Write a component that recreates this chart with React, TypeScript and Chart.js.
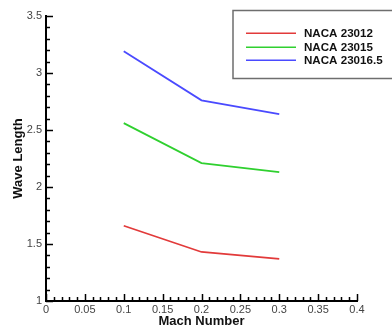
import React, { useEffect, useRef } from "react";
import { Chart, registerables } from "chart.js";

Chart.register(...registerables);

const machNumbers = [0.1, 0.2, 0.3];
const naca23012 = [1.66, 1.43, 1.37];
const naca23015 = [2.56, 2.21, 2.13];
const naca230165 = [3.19, 2.76, 2.64];
const seriesLabels = ["NACA 23012", "NACA 23015", "NACA 23016.5"];
const seriesColors = ["#e23a3a", "#2fd02f", "#4a4aff"];
const xMajorTicks = [0, 0.05, 0.1, 0.15, 0.2, 0.25, 0.3, 0.35, 0.4];
const yMajorTicks = [1, 1.5, 2, 2.5, 3, 3.5];

const tickPlugin = {
  id: "inwardTicks",
  afterDraw(chart: any) {
    const ctx = chart.ctx;
    const xs = chart.scales.x;
    const ys = chart.scales.y;
    const area = chart.chartArea;
    ctx.save();
    ctx.strokeStyle = "#000";
    ctx.lineWidth = 1.5;
    for (let i = 0; i <= 40; i++) {
      const v = i / 100;
      const px = Math.round(xs.getPixelForValue(v)) + 0.5;
      const major = i % 5 === 0;
      const len = major ? 7 : 4;
      ctx.beginPath();
      ctx.moveTo(px, area.bottom);
      ctx.lineTo(px, area.bottom - len);
      ctx.stroke();
    }
    for (let i = 10; i <= 35; i++) {
      const v = i / 10;
      const py = Math.round(ys.getPixelForValue(v)) + 0.5;
      const major = i % 5 === 0;
      const len = major ? 7 : 4;
      ctx.beginPath();
      ctx.moveTo(area.left, py);
      ctx.lineTo(area.left + len, py);
      ctx.stroke();
    }
    // legend box
    const bx = 233;
    const by = 10.5;
    const bh = 68;
    ctx.strokeStyle = "#6e6e6e";
    ctx.lineWidth = 1.5;
    ctx.strokeRect(bx, by, 200, bh);
    const rows = [33.3, 47.3, 60.3];
    chart.data.datasets.forEach((ds: any, i: number) => {
      ctx.strokeStyle = ds.borderColor;
      ctx.lineWidth = 1.5;
      ctx.beginPath();
      ctx.moveTo(246, rows[i]);
      ctx.lineTo(296, rows[i]);
      ctx.stroke();
      ctx.fillStyle = "#111";
      ctx.font = "bold 11.6px 'Liberation Sans', Arial, sans-serif";
      ctx.textBaseline = "middle";
      ctx.textAlign = "left";
      ctx.fillText(ds.label, 304, rows[i] + 0.5);
    });
    ctx.restore();
  },
};

export default function App() {
  const ref = useRef<HTMLCanvasElement | null>(null);
  useEffect(() => {
    if (!ref.current) return;
    const chart = new Chart(ref.current, {
      type: "line",
      data: {
        datasets: [naca23012, naca23015, naca230165].map((arr, i) => ({
          label: seriesLabels[i],
          data: arr.map((y, j) => ({ x: machNumbers[j], y })),
          borderColor: seriesColors[i],
          backgroundColor: seriesColors[i],
          borderWidth: 1.8,
          pointRadius: 0,
          tension: 0,
          fill: false,
        })),
      },
      options: {
        animation: false,
        responsive: false,
        maintainAspectRatio: false,
        layout: { padding: { left: 0, top: 16, right: 35, bottom: 0 } },
        plugins: { legend: { display: false }, tooltip: { enabled: false } },
        scales: {
          x: {
            type: "linear",
            min: 0,
            max: 0.4,
            afterBuildTicks: (s: any) => {
              s.ticks = xMajorTicks.map((v) => ({ value: v }));
            },
            afterFit: (s: any) => {
              s.height = 28;
            },
            grid: { display: false, drawTicks: false },
            border: { display: true, color: "#000", width: 2 },
            ticks: {
              padding: 2,
              color: "#444",
              font: { family: "'Liberation Sans', Arial, sans-serif", size: 11 },
              maxRotation: 0,
              autoSkip: false,
              callback: (v: any) => String(Number(v)),
            },
            title: {
              display: true,
              text: "Mach Number",
              color: "#111",
              font: { family: "'Liberation Sans', Arial, sans-serif", size: 13, weight: "bold" },
              padding: { top: 0, bottom: 0 },
            },
          },
          y: {
            type: "linear",
            min: 1,
            max: 3.5,
            afterBuildTicks: (s: any) => {
              s.ticks = yMajorTicks.map((v) => ({ value: v }));
            },
            afterFit: (s: any) => {
              s.width = 46;
            },
            grid: { display: false, drawTicks: false },
            border: { display: true, color: "#000", width: 2 },
            ticks: {
              padding: 4,
              color: "#444",
              font: { family: "'Liberation Sans', Arial, sans-serif", size: 11 },
              autoSkip: false,
              callback: (v: any) => String(Number(v)),
            },
            title: {
              display: true,
              text: "Wave Length",
              color: "#111",
              font: { family: "'Liberation Sans', Arial, sans-serif", size: 13, weight: "bold" },
              padding: { top: 10.5, bottom: 0 },
            },
          },
        },
      },
      plugins: [tickPlugin],
    } as any);
    return () => chart.destroy();
  }, []);
  return (
    <div style={{ position: "fixed", left: 0, top: 0, width: 392, height: 329, background: "#fff" }}>
      <canvas ref={ref} width={392} height={329} style={{ width: 392, height: 329 }} />
    </div>
  );
}
